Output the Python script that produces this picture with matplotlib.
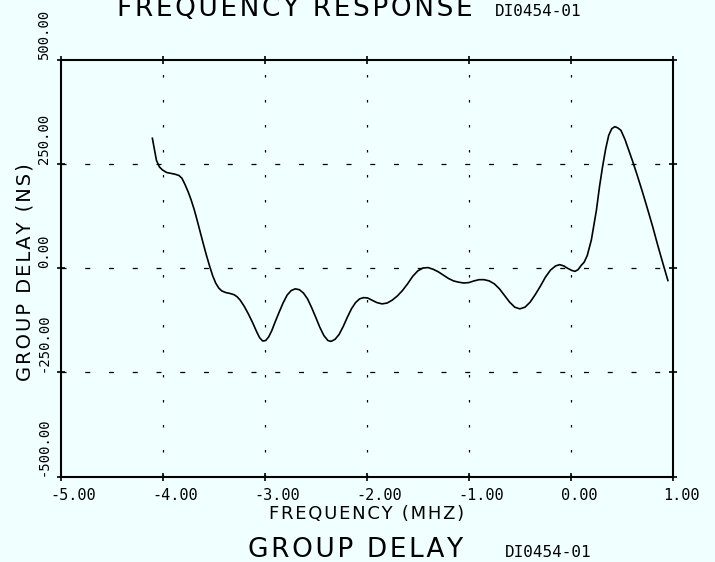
import numpy as np
import matplotlib
matplotlib.use("Agg")
import matplotlib.pyplot as plt
from matplotlib.transforms import ScaledTranslation

# group delay trace (frequency in MHz, delay in ns)
freq = [-4.10, -4.06, -4.03, -4.00, -3.96, -3.92, -3.88, -3.84, -3.81, -3.78,
        -3.75, -3.72, -3.69, -3.66, -3.63, -3.60, -3.57, -3.54, -3.51, -3.48,
        -3.45, -3.42, -3.38, -3.34, -3.30, -3.27, -3.24, -3.20, -3.16, -3.12,
        -3.08, -3.05, -3.02, -2.99, -2.96, -2.93, -2.90, -2.86, -2.82, -2.78,
        -2.74, -2.70, -2.66, -2.62, -2.58, -2.54, -2.50, -2.46, -2.42, -2.38,
        -2.35, -2.31, -2.27, -2.23, -2.19, -2.15, -2.11, -2.07, -2.03, -1.99,
        -1.95, -1.90, -1.85, -1.80, -1.75, -1.70, -1.65, -1.60, -1.55, -1.50,
        -1.45, -1.40, -1.35, -1.30, -1.25, -1.20, -1.15, -1.10, -1.05, -1.00,
        -0.95, -0.90, -0.85, -0.80, -0.75, -0.70, -0.65, -0.60, -0.55, -0.50,
        -0.45, -0.40, -0.35, -0.30, -0.25, -0.20, -0.15, -0.11, -0.07, -0.03,
        0.01, 0.04, 0.07, 0.10, 0.13, 0.16, 0.20, 0.25, 0.28, 0.31,
        0.34, 0.37, 0.40, 0.43, 0.46, 0.49, 0.53, 0.57, 0.61, 0.65,
        0.70, 0.75, 0.80, 0.85, 0.90, 0.95]
delay = [311, 258, 242, 235, 229, 227, 225, 222, 215, 200,
         183, 163, 140, 113, 85, 57, 30, 5, -18, -36,
         -48, -55, -59, -61, -64, -69, -77, -92, -110, -130,
         -152, -167, -175, -174, -165, -150, -131, -107, -84, -65,
         -54, -50, -52, -60, -74, -95, -118, -142, -162, -174,
         -176, -171, -159, -140, -118, -98, -83, -74, -71, -72,
         -77, -83, -86, -84, -77, -67, -54, -38, -20, -7,
         0, 1, -3, -9, -17, -25, -31, -34, -36, -35,
         -31, -28, -28, -31, -38, -50, -66, -82, -94, -98,
         -94, -82, -64, -44, -22, -5, 5, 8, 5, -1,
         -6, -8, -4, 6, 14, 30, 67, 139, 195, 243,
         285, 318, 334, 339, 336, 330, 308, 280, 252, 222,
         183, 142, 100, 55, 12, -30]

xticks = [-5, -4, -3, -2, -1, 0, 1]
xlabels = ["-5.00", "-4.00", "-3.00", "-2.00", "-1.00", "0.00", "1.00"]
yticks = [-500, -250, 0, 250, 500]
ylabels = ["-500.00", "-250.00", "0.00", "250.00", "500.00"]

BG = "#f0ffff"
W, H = 715, 562


def spaced(s):
    # widen letter spacing with hair spaces
    return "\u200a".join(s)


fig = plt.figure(figsize=(W / 100, H / 100), dpi=100, facecolor=BG)
ax = fig.add_axes([60.5 / W, (H - 476.5) / H, (673 - 60.5) / W, 417 / H])
ax.set_facecolor(BG)

ax.plot(freq, delay, color="black", lw=1.2, solid_joinstyle="round")

ax.set_xlim(-5, 1)
ax.set_ylim(-500, 500)

# dotted grid
for x in xticks[1:-1]:
    ax.axvline(x, color="black", lw=0.9, ls=(0, (2, 18)))
for y in yticks[1:-1]:
    ax.axhline(y, color="black", lw=0.9, ls=(0, (4, 15)))

for sp in ax.spines.values():
    sp.set_linewidth(1.5)

ax.tick_params(direction="inout", length=6, width=1.2, top=True, right=True)

mono = "DejaVu Sans Mono"
ax.set_xticks(xticks)
ax.set_xticklabels(xlabels, family=mono, fontsize=11, ha="left")
ax.tick_params(axis="x", pad=5)
shift = ScaledTranslation(-10 / 100, 0, fig.dpi_scale_trans)
for lbl in ax.get_xticklabels():
    lbl.set_transform(lbl.get_transform() + shift)

ax.set_yticks(yticks)
ax.set_yticklabels(ylabels, family=mono, fontsize=10, rotation=90,
                   va="bottom", ha="center")
ax.tick_params(axis="y", pad=9)

# axis titles
ax.set_xlabel(spaced("FREQUENCY (MHZ)"), fontsize=13, labelpad=2)
fig.text(25 / W, 1 - 272 / H, spaced("GROUP DELAY (NS)"), rotation=90,
         fontsize=14, ha="center", va="center")

# header and footer captions
fig.text(117 / W, 1 - 16 / H, spaced("FREQUENCY RESPONSE"), fontsize=19,
         ha="left", va="baseline")
fig.text(495 / W, 1 - 16 / H, "DI0454-01", family=mono, fontsize=11.5,
         ha="left", va="baseline")
fig.text(248 / W, 1 - 557 / H, spaced("GROUP DELAY"), fontsize=19,
         ha="left", va="baseline")
fig.text(505 / W, 1 - 557 / H, "DI0454-01", family=mono, fontsize=11.5,
         ha="left", va="baseline")

fig.savefig("out.png", dpi=100, facecolor=BG)
